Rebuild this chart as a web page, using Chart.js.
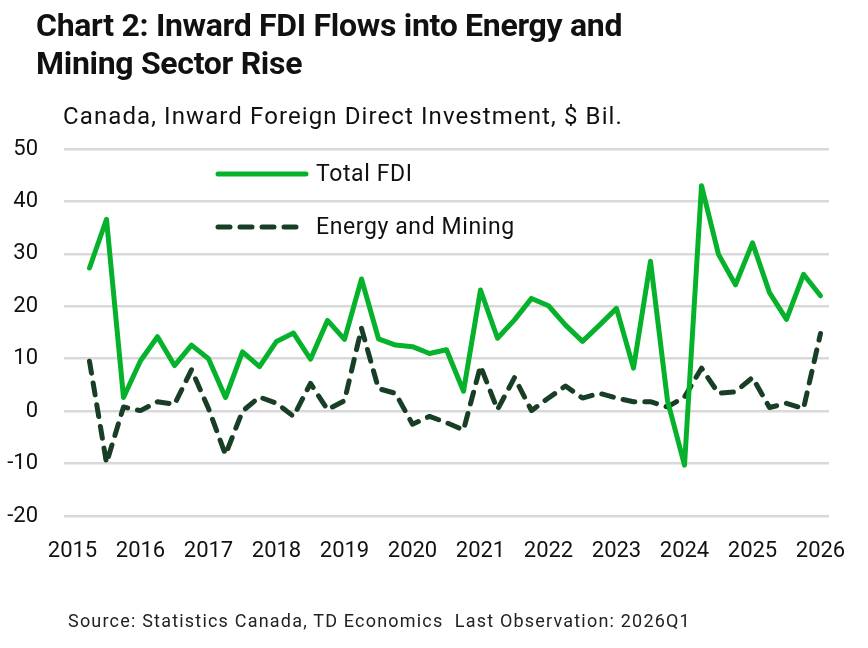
<!DOCTYPE html>
<html lang="en">
<head>
    <meta charset="UTF-8">
    <title>Chart 2: Inward FDI Flows into Energy and Mining Sector Rise</title>
    <style>
        body {
            margin: 0;
            padding: 0;
            background: #fff;
            font-family: Roboto, Arial, sans-serif;
            color: #111;
        }
        .wrap {
            position: relative;
            width: 868px;
            height: 648px;
            overflow: hidden;
        }
        .title {
            position: absolute;
            left: 36px;
            top: 6px;
            font-size: 32px;
            font-weight: 700;
            line-height: 38px;
            letter-spacing: -0.3px;
        }
        .subtitle {
            position: absolute;
            left: 63px;
            top: 102px;
            font-size: 24px;
            letter-spacing: 1.1px;
        }
        .source {
            position: absolute;
            left: 68px;
            top: 610px;
            font-size: 18px;
            letter-spacing: 1.2px;
            color: #222;
        }
        canvas {
            position: absolute;
            left: 0;
            top: 0;
        }
    </style>
</head>
<body>
<div class="wrap">
    <canvas id="fdiChart" width="868" height="648"></canvas>
    <div class="title">Chart 2: Inward FDI Flows into Energy and<br>Mining Sector Rise</div>
    <div class="subtitle">Canada, Inward Foreign Direct Investment, $ Bil.</div>
    <div class="source">Source: Statistics Canada, TD Economics&nbsp; Last Observation: 2026Q1</div>
</div>

<script src="https://cdn.jsdelivr.net/npm/chart.js"></script>
<script>
    // quarters 2015Q1 .. 2026Q1 (first quarter has no observation)
    const quarters = [];
    for (let y = 2015; y <= 2026; y++) {
        for (let q = 1; q <= 4; q++) {
            if (y === 2026 && q > 1) break;
            quarters.push(y + 'Q' + q);
        }
    }

    // 2015Q2 .. 2026Q1, $ Bil.
    const totalFdi = [
        27.3, 36.6, 2.6,
        9.6, 14.2, 8.7, 12.6,
        10.0, 2.6, 11.3, 8.5,
        13.3, 14.9, 9.9, 17.3,
        13.7, 25.2, 13.8, 12.6,
        12.3, 11.0, 11.7, 3.8,
        23.1, 13.9, 17.4, 21.5,
        20.1, 16.4, 13.3, 16.4,
        19.6, 8.2, 28.6, 2.0,
        -10.3, 43.0, 29.9, 24.1,
        32.1, 22.6, 17.5, 26.1,
        22.0
    ];
    const energyMining = [
        9.5, -9.9, 0.8,
        0.1, 1.8, 1.3, 7.9,
        0.5, -8.3, 0.0, 2.7,
        1.5, -1.0, 5.3, 0.3,
        2.0, 15.8, 4.3, 3.4,
        -2.5, -1.0, -2.2, -3.6,
        8.6, 0.3, 6.4, 0.1,
        2.5, 4.8, 2.5, 3.4,
        2.5, 1.8, 1.8, 0.8,
        2.7, 8.2, 3.4, 3.7,
        6.4, 0.7, 1.5, 0.5,
        14.8
    ];
    const yTicks = [50, 40, 30, 20, 10, 0, -10, -20];
    const seriesNames = ['Total FDI', 'Energy and Mining'];

    const GREEN = '#06b22b';
    const DARK = '#183f25';
    const DASH = [12, 10];

    // legend drawn inside the plot
    const insideLegend = {
        id: 'insideLegend',
        afterDatasetsDraw(chart) {
            const ctx = chart.ctx;
            const rows = [
                { y: 174, color: GREEN, dash: [], text: seriesNames[0] },
                { y: 227, color: DARK, dash: DASH, text: seriesNames[1] }
            ];
            ctx.save();
            rows.forEach(r => {
                ctx.beginPath();
                ctx.setLineDash(r.dash);
                ctx.lineCap = 'round';
                ctx.lineWidth = 5;
                ctx.strokeStyle = r.color;
                ctx.moveTo(218, r.y);
                ctx.lineTo(306, r.y);
                ctx.stroke();
                ctx.setLineDash([]);
                ctx.fillStyle = '#111';
                ctx.font = '23px Roboto';
                ctx.letterSpacing = '0.6px';
                ctx.textBaseline = 'middle';
                ctx.fillText(r.text, 316, r.y + 1);
            });
            ctx.restore();
        }
    };

    new Chart(document.getElementById('fdiChart'), {
        type: 'line',
        data: {
            labels: quarters,
            datasets: [
                {
                    label: seriesNames[0],
                    data: [null].concat(totalFdi),
                    borderColor: GREEN,
                    borderWidth: 5,
                    pointRadius: 0,
                    tension: 0,
                    borderJoinStyle: 'round',
                    borderCapStyle: 'round'
                },
                {
                    label: seriesNames[1],
                    data: [null].concat(energyMining),
                    borderColor: DARK,
                    borderWidth: 5,
                    borderDash: DASH,
                    pointRadius: 0,
                    tension: 0,
                    borderJoinStyle: 'round',
                    borderCapStyle: 'round'
                }
            ]
        },
        options: {
            responsive: false,
            animation: false,
            layout: { padding: { left: 0, right: 39, top: 149, bottom: 82 } },
            plugins: {
                legend: { display: false },
                tooltip: { enabled: false }
            },
            scales: {
                x: {
                    offset: true,
                    grid: { display: false },
                    border: { display: false },
                    afterFit(scale) { scale.height = 50; },
                    ticks: {
                        autoSkip: false,
                        maxRotation: 0,
                        padding: 14,
                        color: '#111',
                        font: { family: 'Roboto', size: 22 },
                        callback(val) {
                            const lab = this.getLabelForValue(val);
                            return lab.endsWith('Q1') ? lab.slice(0, 4) : '';
                        }
                    }
                },
                y: {
                    min: -20,
                    max: 50,
                    afterFit(scale) { scale.width = 64; },
                    afterBuildTicks(scale) {
                        scale.ticks = yTicks.map(v => ({ value: v }));
                    },
                    grid: { color: '#d9d9d9', lineWidth: 2.5, drawTicks: false },
                    border: { display: false },
                    ticks: {
                        padding: 26,
                        color: '#111',
                        font: { family: 'Roboto', size: 22 }
                    }
                }
            }
        },
        plugins: [insideLegend]
    });
</script>
</body>
</html>
